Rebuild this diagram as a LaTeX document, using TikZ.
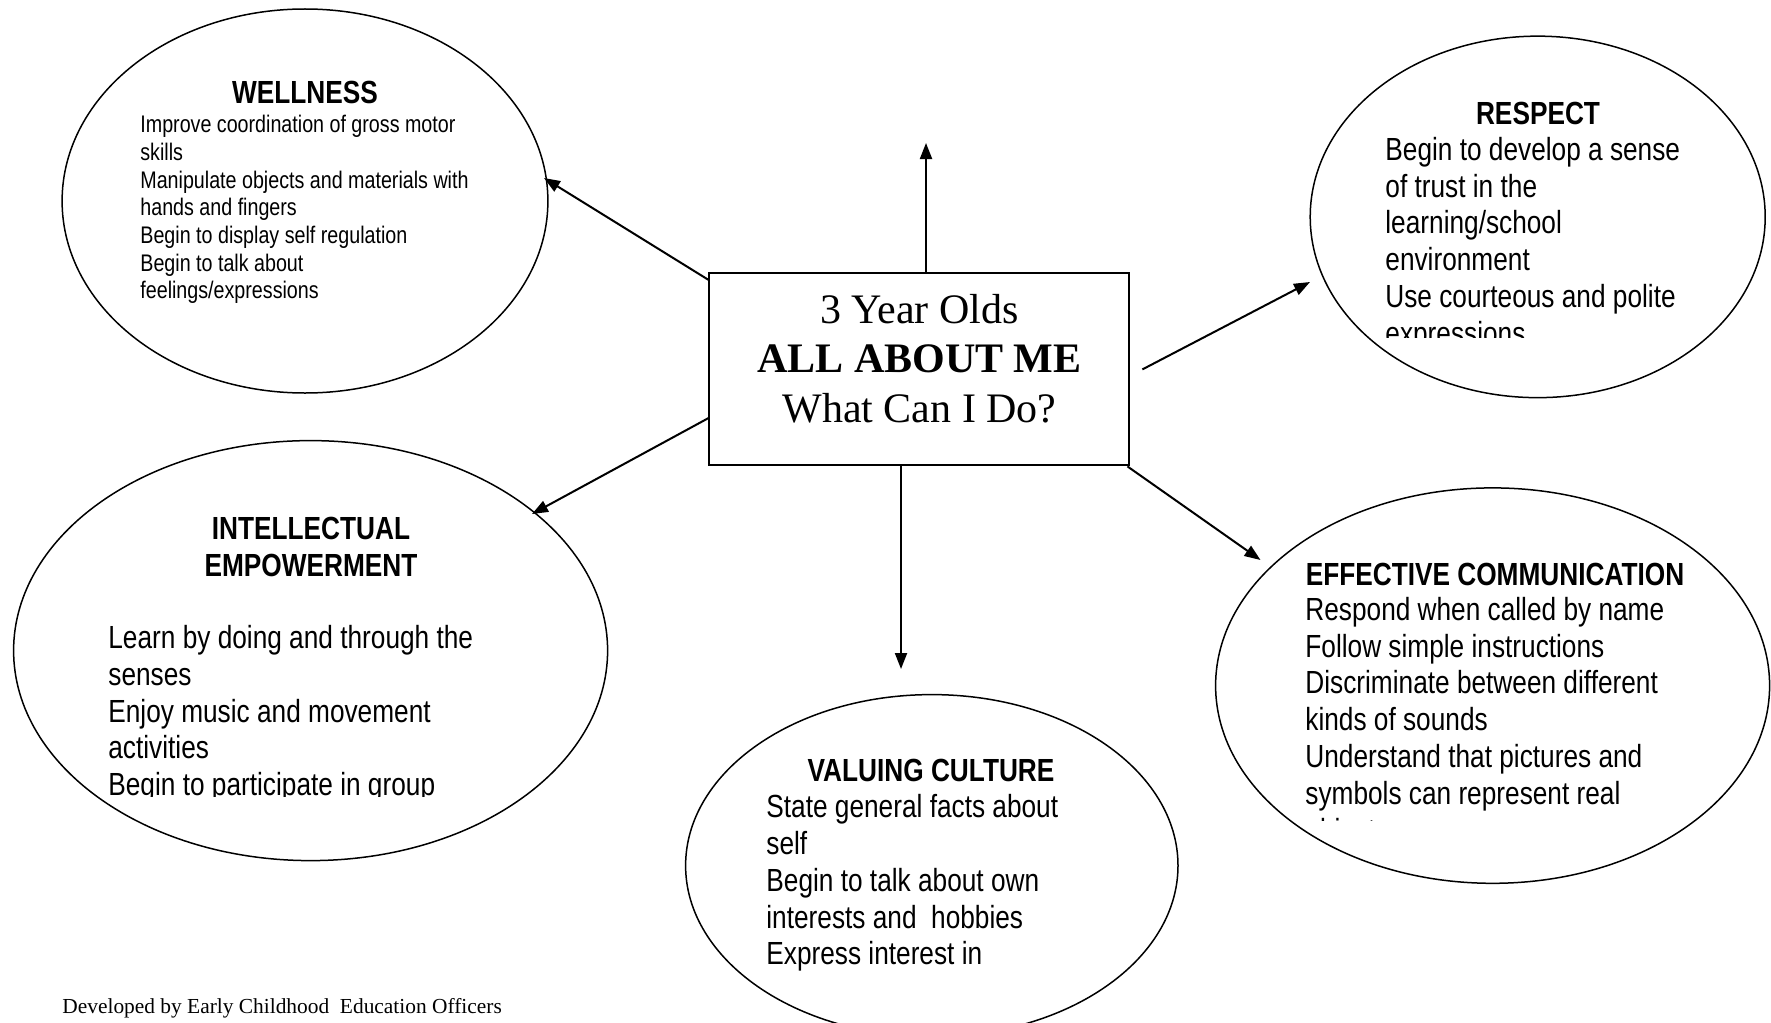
\documentclass[tikz,border=0pt]{standalone}
\usepackage{fontspec}
\setmainfont{Liberation Serif}
\newfontfamily\narrowsans[FakeStretch=0.82]{Liberation Sans}
\usetikzlibrary{shapes.geometric,arrows.meta,calc}
\tikzset{
  oval/.style={draw=black, ellipse, line width=0.75pt, inner sep=0pt, outer sep=0pt},
  hubbox/.style={draw=black, rectangle, line width=1pt, inner sep=0pt, minimum width=210pt, minimum height=96pt},
  arr/.style={draw=black, line width=1pt, -{Triangle[length=8pt,width=6pt]}},
  head/.style={font=\narrowsans\bfseries\fontsize{16}{18.4}\selectfont, align=center, anchor=north, inner sep=0pt},
  lab/.style={font=\narrowsans\fontsize{16}{18.4}\selectfont, align=left, anchor=north west, inner sep=0pt},
  labs/.style={font=\narrowsans\fontsize{12}{13.85}\selectfont, align=left, anchor=north west, inner sep=0pt},
  hubtext/.style={font=\fontsize{21}{24.85}\selectfont, align=center, anchor=north, inner sep=0pt},
  foot/.style={font=\fontsize{10.7}{12}\selectfont, anchor=base west, inner sep=0pt},
}
\begin{document}
\begin{tikzpicture}[x=0.5pt, y=-0.5pt]
  \useasboundingbox (0,0) rectangle (1771,1022);
  \node[hubbox] (hub) at (919.4,369.4) {};
  \node[hubtext] (hubtitle) at (919.4,293.6) {3 Year Olds\\\textbf{ALL ABOUT ME}\\What Can I Do?};

  \node[oval, minimum width=242.9pt, minimum height=192pt] (wellness) at (305,201) {};
  \node[oval, minimum width=227.5pt, minimum height=180.75pt] (respect) at (1537.7,216.9) {};
  \node[oval, minimum width=297pt, minimum height=210pt] (intellect) at (310.6,650.6) {};
  \node[oval, minimum width=246.2pt, minimum height=171pt] (culture) at (931.8,865.6) {};
  \node[oval, minimum width=277pt, minimum height=197.7pt] (communic) at (1492.6,685.6) {};

  \coordinate (tipU) at (926,143);
  \coordinate (tipD) at (901,669);
  \coordinate (tipW) at (544,178);
  \coordinate (tipI) at (532,514);
  \coordinate (tipR) at (1310,282);
  \coordinate (tipE) at (1260.5,560);
  \draw[arr] (hub.north -| tipU) -- (tipU);
  \draw[arr] (hub.south -| tipD) -- (tipD);
  \draw[arr] (hub.157.5) -- (tipW);
  \draw[arr] (hub.193) -- (tipI);
  \draw[arr] ([xshift=6pt]hub.east) -- (tipR);
  \draw[arr] (hub.-25.8) -- (tipE);

  \node[head] (wellhead) at (305,80.5) {WELLNESS};
  \node[labs] (welltext) at (140,115) {Improve coordination of gross motor\\skills\\Manipulate objects and materials with\\hands and fingers\\Begin to display self regulation\\Begin to talk about\\feelings/expressions};

  \node[head] (resphead) at (1538,101.7) {RESPECT};
  \begin{scope}
    \clip (1300,120) rectangle (1771,337);
    \node[lab] (resptext) at (1385,136.7) {Begin to develop a sense\\of trust in the\\learning/school\\environment\\Use courteous and polite\\expressions};
  \end{scope}

  \node[head] (intehead) at (311,516.7) {INTELLECTUAL\\EMPOWERMENT};
  \begin{scope}
    \clip (60,600) rectangle (620,796);
    \node[lab] (intetext) at (108,625) {Learn by doing and through the\\senses\\Enjoy music and movement\\activities\\Begin to participate in group};
  \end{scope}

  \node[head] (valuhead) at (931,758.3) {VALUING CULTURE};
  \node[lab] (valutext) at (766,794) {State general facts about\\self\\Begin to talk about own\\interests and\ \ hobbies\\Express interest in};

  \node[head] (effehead) at (1495,562.7) {EFFECTIVE COMMUNICATION};
  \begin{scope}
    \clip (1290,585) rectangle (1771,820);
    \node[lab] (effetext) at (1305,596.7) {Respond when called by name\\Follow simple instructions\\Discriminate between different\\kinds of sounds\\Understand that pictures and\\symbols can represent real\\objects};
  \end{scope}

  \node[foot] (credit) at (62,1013) {Developed by Early Childhood\ \ Education Officers};
\end{tikzpicture}
\end{document}
